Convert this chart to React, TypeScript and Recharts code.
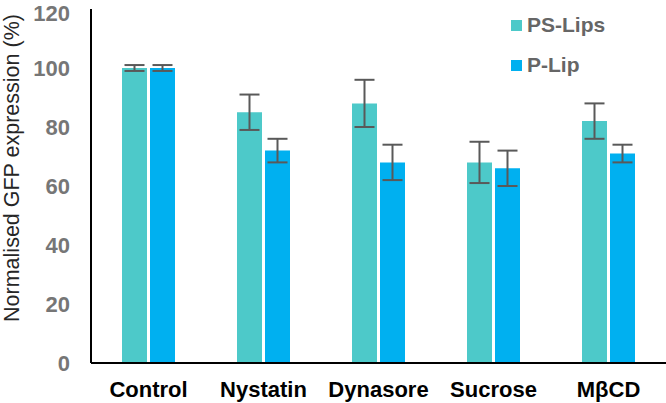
import React from 'react';
import { BarChart, Bar, XAxis, YAxis, ErrorBar, Legend } from 'recharts';

const categories = ['Control', 'Nystatin', 'Dynasore', 'Sucrose', 'MβCD'];
const psLips = [100, 85, 88, 68, 82];
const psLipsErr = [1, 6, 8, 7, 6];
const pLip = [100, 72, 68, 66, 71];
const pLipErr = [1, 4, 6, 6, 3];
const yTicks = [0, 20, 40, 60, 80, 100, 120];

const seriesNames = ['PS-Lips', 'P-Lip'];
const colors = ['#4DC9C9', '#00B0F0'];

const data = categories.map((c, i) => ({
  name: c,
  ps: psLips[i],
  psErr: psLipsErr[i],
  p: pLip[i],
  pErr: pLipErr[i],
}));

const FONT = '"Liberation Sans", Arial, sans-serif';

const LegendContent = () => (
  <div style={{ position: 'absolute', left: 511, top: 0, fontFamily: FONT }}>
    {seriesNames.map((n, i) => (
      <div
        key={n}
        style={{
          position: 'absolute',
          left: 0,
          top: 13 + i * 40,
          height: 24,
          display: 'flex',
          alignItems: 'center',
          whiteSpace: 'nowrap',
        }}
      >
        <span style={{ display: 'inline-block', width: 11, height: 11, background: colors[i], marginRight: 5 }} />
        <span style={{ fontSize: 21, fontWeight: 'bold', color: '#666666' }}>{n}</span>
      </div>
    ))}
  </div>
);

export default function App() {
  return (
    <div style={{ position: 'absolute', left: 0, top: 0, width: 666, height: 403, background: '#fff' }}>
      <BarChart
        width={666}
        height={403}
        data={data}
        margin={{ top: 9, right: 0, bottom: 0, left: 0 }}
        barSize={25}
        barGap={3}
      >
        <XAxis
          dataKey="name"
          height={40}
          tickLine={false}
          tickSize={0}
          tickMargin={18}
          axisLine={{ stroke: '#000', strokeWidth: 2 }}
          tick={{ fill: '#000', fontSize: 22, fontWeight: 'bold', fontFamily: FONT }}
          interval={0}
        />
        <YAxis
          width={91}
          domain={[0, 120]}
          ticks={yTicks}
          tickLine={false}
          tickSize={0}
          tickMargin={21}
          axisLine={{ stroke: '#000', strokeWidth: 2 }}
          tick={{ fill: '#767676', fontSize: 22, fontWeight: 'bold', fontFamily: FONT }}
          label={{
            content: () => (
              <text
                x={19}
                y={168}
                transform="rotate(-90 19 168)"
                textAnchor="middle"
                fontSize={21.5}
                fontFamily={FONT}
                fill="#262626"
              >
                Normalised GFP expression (%)
              </text>
            ),
          }}
        />
        <Legend content={<LegendContent />} wrapperStyle={{ position: 'absolute', left: 0, top: 0, width: 0, height: 0 }} />
        <Bar dataKey="ps" name={seriesNames[0]} fill={colors[0]} isAnimationActive={false}>
          <ErrorBar dataKey="psErr" direction="y" width={10} stroke="#595959" strokeWidth={2} />
        </Bar>
        <Bar dataKey="p" name={seriesNames[1]} fill={colors[1]} isAnimationActive={false}>
          <ErrorBar dataKey="pErr" direction="y" width={10} stroke="#595959" strokeWidth={2} />
        </Bar>
      </BarChart>
    </div>
  );
}
